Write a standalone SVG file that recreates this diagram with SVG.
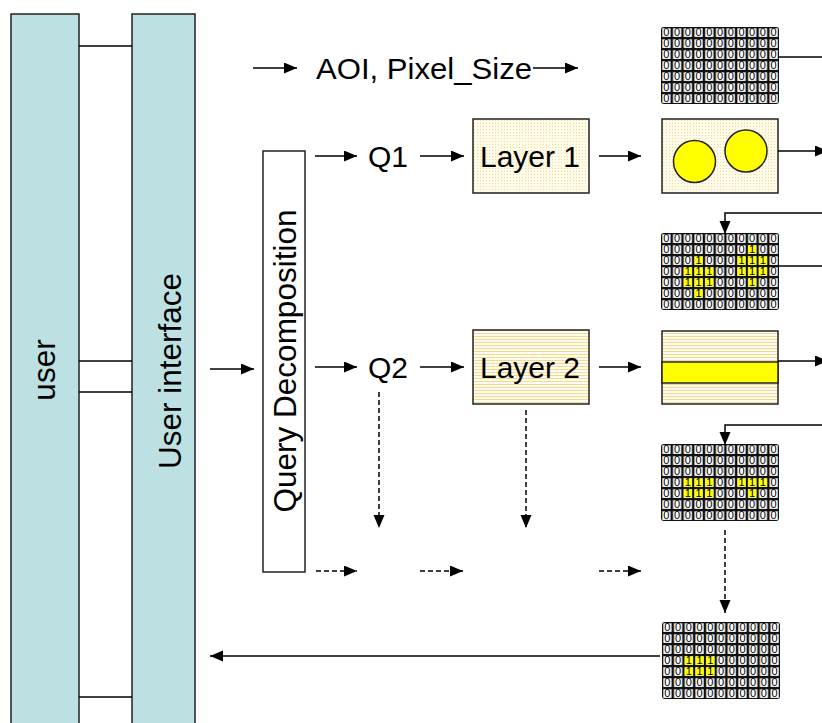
<svg xmlns="http://www.w3.org/2000/svg" xmlns:xlink="http://www.w3.org/1999/xlink" width="822" height="723" viewBox="0 0 822 723">
<style>
.col{fill:#bde0e3;stroke:#222;stroke-width:1.5}
.box{stroke:#222;stroke-width:1.5}
.t{font-family:"Liberation Sans",Arial,sans-serif;font-size:30px;fill:#000}
.v{font-family:"Liberation Sans",Arial,sans-serif;font-size:31.5px;fill:#000;text-anchor:middle}
.cell{font-family:"Liberation Sans",Arial,sans-serif;font-size:11px;fill:#000;text-anchor:middle}
.ln{stroke:#000;stroke-width:1.5;fill:none}
.ar{stroke:#000;stroke-width:1.5;fill:none;marker-end:url(#ah)}
.da{stroke:#000;stroke-width:1.5;fill:none;stroke-dasharray:5 3;marker-end:url(#ah)}
</style>
<defs>
<marker id="ah" markerUnits="userSpaceOnUse" markerWidth="14" markerHeight="12" refX="13" refY="5.5" orient="auto" viewBox="0 0 14 12">
<path d="M0,0 L13,5.5 L0,11 z" fill="#000"/>
</marker>
<pattern id="dots" patternUnits="userSpaceOnUse" width="3" height="3">
<rect width="3" height="3" fill="#fffbea"/>
<rect width="1" height="1" fill="#f7dc90"/>
</pattern>
<pattern id="stripes" patternUnits="userSpaceOnUse" width="4" height="3">
<rect width="4" height="3" fill="#fffdf3"/>
<rect width="4" height="1" fill="#f6d98a"/>
</pattern>
<pattern id="cells" patternUnits="userSpaceOnUse" width="10.727" height="11">
<rect x="1.3" y="1.3" width="8.2" height="8.6" fill="#fff"/>
</pattern>
<g id="grid">
<rect width="118" height="77" rx="3" fill="#111"/>
<rect width="118" height="77" fill="url(#cells)"/>
<text class="cell" x="5.36 16.09 26.82 37.55 48.27 59 69.73 80.45 91.18 101.91 112.64" y="9.4">00000000000</text>
<text class="cell" x="5.36 16.09 26.82 37.55 48.27 59 69.73 80.45 91.18 101.91 112.64" y="20.4">00000000000</text>
<text class="cell" x="5.36 16.09 26.82 37.55 48.27 59 69.73 80.45 91.18 101.91 112.64" y="31.4">00000000000</text>
<text class="cell" x="5.36 16.09 26.82 37.55 48.27 59 69.73 80.45 91.18 101.91 112.64" y="42.4">00000000000</text>
<text class="cell" x="5.36 16.09 26.82 37.55 48.27 59 69.73 80.45 91.18 101.91 112.64" y="53.4">00000000000</text>
<text class="cell" x="5.36 16.09 26.82 37.55 48.27 59 69.73 80.45 91.18 101.91 112.64" y="64.4">00000000000</text>
<text class="cell" x="5.36 16.09 26.82 37.55 48.27 59 69.73 80.45 91.18 101.91 112.64" y="75.4">00000000000</text>
</g>
<g id="y1">
<rect x="1.3" y="1.3" width="8.2" height="8.6" fill="#ffff00"/>
<text class="cell" x="5.36" y="9.4">1</text>
</g>
</defs>

<g id="user">
<rect class="col" x="11" y="14" width="68" height="720"/>
<text class="v" transform="translate(55,370) rotate(-90)">user</text>
</g>
<g id="user-interface">
<rect class="col" x="132" y="14" width="63" height="720"/>
<text class="v" transform="translate(181,371) rotate(-90)">User interface</text>
</g>
<g id="query-decomposition">
<rect class="box" x="263" y="151" width="42" height="421" fill="#fff"/>
<text class="v" transform="translate(296,361) rotate(-90)">Query Decomposition</text>
</g>
<g id="aoi"><text class="t" x="316" y="79" textLength="216" lengthAdjust="spacingAndGlyphs">AOI, Pixel_Size</text></g>
<g id="q1"><text class="t" x="368" y="167">Q1</text></g>
<g id="q2"><text class="t" x="368" y="378">Q2</text></g>
<g id="layer1">
<rect class="box" x="473" y="119" width="116" height="74" fill="url(#dots)"/>
<text class="t" x="530" y="167" text-anchor="middle">Layer 1</text>
</g>
<g id="layer2">
<rect class="box" x="473" y="330" width="116" height="74" fill="url(#stripes)"/>
<text class="t" x="530" y="378" text-anchor="middle">Layer 2</text>
</g>
<g id="raster-aoi"><use xlink:href="#grid" x="661" y="27"/></g>
<g id="layer1-features">
<rect class="box" x="662" y="119" width="116" height="74" fill="url(#dots)"/>
<circle cx="694.5" cy="161.5" r="21" fill="#ffff00" stroke="#222" stroke-width="1.5"/>
<circle cx="746" cy="151" r="21" fill="#ffff00" stroke="#222" stroke-width="1.5"/>
</g>
<g id="raster-layer1">
<use xlink:href="#grid" x="661" y="233"/>
<g transform="translate(661,233)">
<use xlink:href="#y1" x="85.82" y="11"/>
<use xlink:href="#y1" x="32.18" y="22"/>
<use xlink:href="#y1" x="75.09" y="22"/>
<use xlink:href="#y1" x="85.82" y="22"/>
<use xlink:href="#y1" x="96.55" y="22"/>
<use xlink:href="#y1" x="21.45" y="33"/>
<use xlink:href="#y1" x="32.18" y="33"/>
<use xlink:href="#y1" x="42.91" y="33"/>
<use xlink:href="#y1" x="75.09" y="33"/>
<use xlink:href="#y1" x="85.82" y="33"/>
<use xlink:href="#y1" x="96.55" y="33"/>
<use xlink:href="#y1" x="21.45" y="44"/>
<use xlink:href="#y1" x="32.18" y="44"/>
<use xlink:href="#y1" x="42.91" y="44"/>
<use xlink:href="#y1" x="85.82" y="44"/>
<use xlink:href="#y1" x="32.18" y="55"/>
</g>
</g>
<g id="layer2-features">
<rect class="box" x="662" y="331" width="116" height="73" fill="url(#stripes)"/>
<rect class="box" x="662" y="362" width="116" height="21" fill="#ffff00"/>
</g>
<g id="raster-layer2">
<use xlink:href="#grid" x="661" y="444"/>
<g transform="translate(661,444)">
<use xlink:href="#y1" x="21.45" y="33"/>
<use xlink:href="#y1" x="32.18" y="33"/>
<use xlink:href="#y1" x="42.91" y="33"/>
<use xlink:href="#y1" x="75.09" y="33"/>
<use xlink:href="#y1" x="85.82" y="33"/>
<use xlink:href="#y1" x="96.55" y="33"/>
<use xlink:href="#y1" x="21.45" y="44"/>
<use xlink:href="#y1" x="32.18" y="44"/>
<use xlink:href="#y1" x="42.91" y="44"/>
<use xlink:href="#y1" x="85.82" y="44"/>
</g>
</g>
<g id="raster-result">
<use xlink:href="#grid" x="662" y="622"/>
<g transform="translate(662,622)">
<use xlink:href="#y1" x="21.45" y="33"/>
<use xlink:href="#y1" x="32.18" y="33"/>
<use xlink:href="#y1" x="42.91" y="33"/>
<use xlink:href="#y1" x="21.45" y="44"/>
<use xlink:href="#y1" x="32.18" y="44"/>
<use xlink:href="#y1" x="42.91" y="44"/>
</g>
</g>

<g id="connectors">
<line class="ln" x1="79" y1="46" x2="132" y2="46"/>
<line class="ln" x1="79" y1="361" x2="132" y2="361"/>
<line class="ln" x1="79" y1="392" x2="132" y2="392"/>
<line class="ln" x1="79" y1="697" x2="132" y2="697"/>
<line class="ar" x1="253" y1="68" x2="297" y2="68"/>
<line class="ar" x1="533" y1="68" x2="578" y2="68"/>
<line class="ar" x1="210" y1="369" x2="254" y2="369"/>
<line class="ar" x1="315" y1="156" x2="357" y2="156"/>
<line class="ar" x1="420" y1="156" x2="464" y2="156"/>
<line class="ar" x1="599" y1="156" x2="641" y2="156"/>
<line class="ar" x1="315" y1="367" x2="357" y2="367"/>
<line class="ar" x1="420" y1="367" x2="464" y2="367"/>
<line class="ar" x1="599" y1="367" x2="641" y2="367"/>
<line class="ln" x1="779" y1="57" x2="822" y2="57"/>
<line class="ar" x1="778" y1="151" x2="828" y2="151"/>
<polyline class="ar" points="822,213 725,213 725,234"/>
<line class="ln" x1="779" y1="266" x2="822" y2="266"/>
<line class="ar" x1="778" y1="361" x2="828" y2="361"/>
<polyline class="ar" points="822,425 725,425 725,445"/>
<line class="da" x1="379" y1="392" x2="379" y2="528"/>
<line class="da" x1="526" y1="410" x2="526" y2="528"/>
<line class="da" x1="316" y1="571" x2="357" y2="571"/>
<line class="da" x1="420" y1="571" x2="463" y2="571"/>
<line class="da" x1="599" y1="571" x2="641" y2="571"/>
<line class="da" x1="725" y1="530" x2="725" y2="613"/>
<line class="ar" x1="660" y1="656" x2="210" y2="656"/>
</g>
</svg>
